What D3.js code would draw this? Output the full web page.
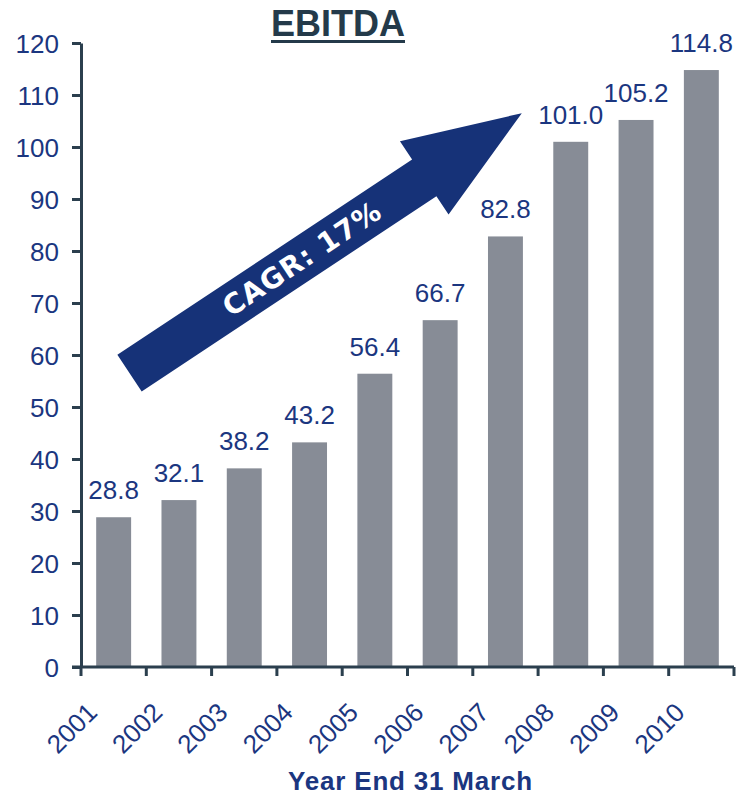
<!DOCTYPE html>
<html>
<head>
<meta charset="utf-8">
<script src="https://cdn.jsdelivr.net/npm/d3@7"></script>
<style>
  html, body { margin: 0; padding: 0; background: #ffffff; }
  svg { display: block; }
</style>
</head>
<body>
<svg id="chart" width="737" height="795"></svg>
<script>
// EBITDA by fiscal year (year end 31 March)
const years = ["2001", "2002", "2003", "2004", "2005", "2006", "2007", "2008", "2009", "2010"];
const ebitda = [28.8, 32.1, 38.2, 43.2, 56.4, 66.7, 82.8, 101.0, 105.2, 114.8];
const yTicks = [0, 10, 20, 30, 40, 50, 60, 70, 80, 90, 100, 110, 120];
const chartTitle = "EBITDA";
const xTitle = "Year End 31 March";
const cagrText = "CAGR: 17%";

const W = 737, H = 795;
const margin = { left: 81, right: 3, top: 43, bottom: 128 };

const navy = "#1b3680";
const axisColor = "#2b3f4e";
const barColor = "#878c96";
const arrowColor = "#163278";

const svg = d3.select("#chart");

const x = d3.scaleBand()
  .domain(years)
  .range([margin.left, W - margin.right])
  .paddingInner(0.465)
  .paddingOuter(0.2325);

const y = d3.scaleLinear()
  .domain([0, 120])
  .range([H - margin.bottom, margin.top]);

// Bars
svg.append("g")
  .selectAll("rect")
  .data(years)
  .join("rect")
  .attr("x", d => x(d))
  .attr("y", (d, i) => y(ebitda[i]))
  .attr("width", x.bandwidth())
  .attr("height", (d, i) => y(0) - y(ebitda[i]))
  .attr("fill", barColor);

// Value labels above bars
svg.append("g")
  .selectAll("text")
  .data(years)
  .join("text")
  .attr("x", d => x(d) + x.bandwidth() / 2)
  .attr("y", (d, i) => y(ebitda[i]) - 18)
  .attr("text-anchor", "middle")
  .attr("font-family", "Liberation Sans, Arial, sans-serif")
  .attr("font-size", 26)
  .attr("fill", navy)
  .text((d, i) => ebitda[i].toFixed(1));

// Y axis
const yAxis = svg.append("g")
  .attr("transform", `translate(${margin.left},0)`)
  .call(d3.axisLeft(y).tickValues(yTicks).tickSize(9).tickPadding(13).tickSizeOuter(0));
yAxis.select(".domain").attr("stroke", axisColor).attr("stroke-width", 3);
yAxis.selectAll(".tick line").attr("stroke", axisColor).attr("stroke-width", 3);
yAxis.selectAll(".tick text")
  .attr("font-family", "Liberation Sans, Arial, sans-serif")
  .attr("font-size", 26)
  .attr("fill", navy)
  .attr("dy", "0.36em");

// X axis: ticks sit on the band boundaries
const bounds = years.map(d => x(d) - x.step() * x.paddingInner() / 2).concat([W - margin.right]);
const xAxisG = svg.append("g").attr("transform", `translate(0,${y(0)})`);
xAxisG.append("line")
  .attr("x1", margin.left - 9).attr("x2", W - margin.right)
  .attr("y1", 0).attr("y2", 0)
  .attr("stroke", axisColor).attr("stroke-width", 3);
xAxisG.selectAll("line.tick")
  .data(bounds)
  .join("line")
  .attr("class", "tick")
  .attr("x1", d => d).attr("x2", d => d)
  .attr("y1", 0).attr("y2", 9)
  .attr("stroke", axisColor).attr("stroke-width", 3);

// Rotated year labels
svg.append("g")
  .selectAll("text")
  .data(years)
  .join("text")
  .attr("transform", d => `translate(${x(d) + x.bandwidth() / 2 - 15},${y(0) + 47}) rotate(-45)`)
  .attr("text-anchor", "end")
  .attr("font-family", "Liberation Sans, Arial, sans-serif")
  .attr("font-size", 26)
  .attr("fill", navy)
  .text(d => d);

// X axis title
svg.append("text")
  .attr("x", (margin.left + W - margin.right) / 2 + 3)
  .attr("y", 790)
  .attr("text-anchor", "middle")
  .attr("font-family", "Liberation Sans, Arial, sans-serif")
  .attr("font-weight", "bold")
  .attr("font-size", 26)
  .attr("letter-spacing", 0.8)
  .attr("fill", navy)
  .text(xTitle);

// Title with underline
const titleText = svg.append("text")
  .attr("x", 338)
  .attr("y", 36)
  .attr("text-anchor", "middle")
  .attr("font-family", "Liberation Sans, Arial, sans-serif")
  .attr("font-weight", "bold")
  .attr("font-size", 36)
  .attr("fill", "#243a4a")
  .text(chartTitle);
const tb = titleText.node().getBBox();
svg.append("rect")
  .attr("x", tb.x).attr("y", 40)
  .attr("width", tb.width).attr("height", 3)
  .attr("fill", "#243a4a");

// Growth arrow, anchored in chart space (band steps along x, EBITDA units along y)
const stepX = s => margin.left + s * x.step();
const tail = [stepX(0.743), y(56.5)];
const tip = [stepX(6.75), y(106.5)];
const dx = tip[0] - tail[0], dy = tip[1] - tail[1];
const len = Math.hypot(dx, dy);
const ux = dx / len, uy = dy / len;      // along the arrow
const px = -uy, py = ux;                 // perpendicular
const shaftHalf = 22, headHalf = 44, headLen = 117;
const base = [tip[0] - ux * headLen, tip[1] - uy * headLen];
const pt = (p, k) => [p[0] + px * k, p[1] + py * k];
const arrowPts = [
  pt(tail, shaftHalf), pt(base, shaftHalf), pt(base, headHalf), tip,
  pt(base, -headHalf), pt(base, -shaftHalf), pt(tail, -shaftHalf)
];
svg.append("path")
  .attr("d", d3.line()(arrowPts) + "Z")
  .attr("fill", arrowColor);

const angle = Math.atan2(dy, dx) * 180 / Math.PI;
const tc = [tail[0] + dx * 0.44, tail[1] + dy * 0.44];
svg.append("text")
  .attr("transform", `translate(${tc[0]},${tc[1]}) rotate(${angle})`)
  .attr("text-anchor", "middle")
  .attr("dominant-baseline", "central")
  .attr("font-family", "DejaVu Sans, Verdana, sans-serif")
  .attr("font-weight", "bold")
  .attr("font-size", 28)
  .attr("letter-spacing", 1)
  .attr("fill", "#ffffff")
  .text(cagrText);
</script>
</body>
</html>
